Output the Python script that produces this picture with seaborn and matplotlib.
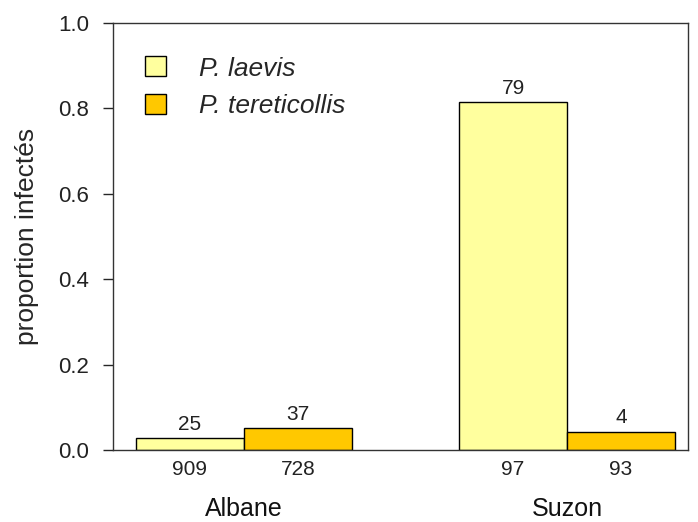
import matplotlib
matplotlib.use("Agg")
import matplotlib.pyplot as plt
import seaborn as sns
import pandas as pd

# Infection counts and sample sizes per site and species
sites = ["Albane", "Albane", "Suzon", "Suzon"]
species = ["P. laevis", "P. tereticollis", "P. laevis", "P. tereticollis"]
infected = [25, 37, 79, 4]
sample_sizes = [909, 728, 97, 93]
site_order = ["Albane", "Suzon"]
species_order = ["P. laevis", "P. tereticollis"]
colors = ["#FFFF9E", "#FFC800"]

df = pd.DataFrame({
    "site": sites,
    "species": species,
    "infected": infected,
    "n": sample_sizes,
})
df["proportion"] = df["infected"] / df["n"]

sns.set_style("ticks")
plt.rcParams["font.family"] = ["Liberation Sans", "DejaVu Sans"]

fig = plt.figure(figsize=(6.98, 5.22), dpi=100)
ax = fig.add_axes([0.162, 0.138, 0.824, 0.818])

sns.barplot(
    data=df, x="site", y="proportion", hue="species",
    order=site_order, hue_order=species_order,
    palette=colors, saturation=1, width=0.668,
    edgecolor="black", linewidth=1.0, errorbar=None, ax=ax,
)

# Counts of infected individuals above each bar, sample size under each bar
centers, ns = [], []
for sp, cont in zip(species_order, ax.containers):
    sub = df[df["species"] == sp].set_index("site").loc[site_order]
    ax.bar_label(cont, labels=[str(v) for v in sub["infected"]],
                 padding=3, fontsize=15, color="#222222")
    for bar, nval in zip(cont, sub["n"]):
        centers.append(bar.get_x() + bar.get_width() / 2)
        ns.append(str(nval))

ax.set_xticks(centers)
ax.set_xticklabels(ns, fontsize=15, color="#222222")
ax.tick_params(axis="x", length=0, pad=7)

sec = ax.secondary_xaxis("bottom")
sec.set_xticks([0, 1])
sec.set_xticklabels(site_order, fontsize=18, color="#111111")
sec.tick_params(axis="x", length=0, pad=34)
sec.spines["bottom"].set_visible(False)

ax.set_xlim(-0.405, 1.375)
ax.set_ylim(0, 1.0)
ax.set_yticks([0.0, 0.2, 0.4, 0.6, 0.8, 1.0])
ax.set_yticklabels(["0.0", "0.2", "0.4", "0.6", "0.8", "1.0"], fontsize=16, color="#222222")
ax.tick_params(axis="y", length=7, width=1, direction="out", pad=10)
ax.set_xlabel("")
ax.set_ylabel("proportion infectés", fontsize=19, labelpad=14)

for s in ax.spines.values():
    s.set_visible(True)
    s.set_linewidth(1.0)
    s.set_color("#333333")

handles, labels = ax.get_legend_handles_labels()
ax.legend(handles, labels, loc="upper left", bbox_to_anchor=(0.055, 0.922),
          frameon=False, prop={"style": "italic", "size": 19},
          handlelength=0.8, handleheight=0.8, handletextpad=1.25,
          labelspacing=0.5, borderaxespad=0, borderpad=0)

fig.savefig("out.png", dpi=100)
